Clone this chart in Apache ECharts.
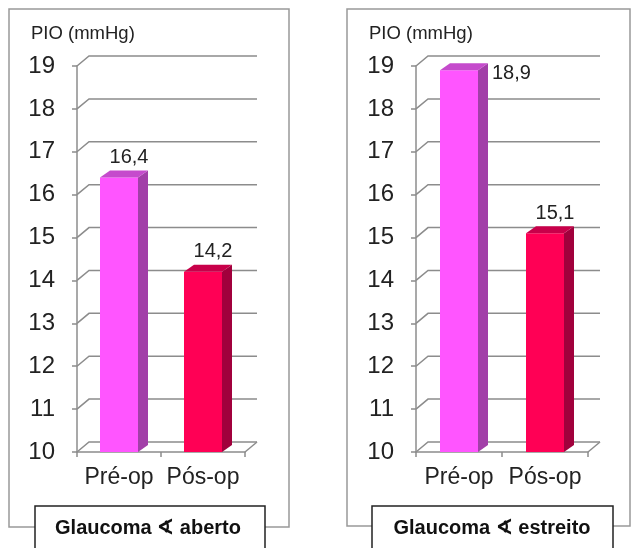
<!DOCTYPE html>
<html>
<head>
<meta charset="utf-8">
<script src="https://cdn.jsdelivr.net/npm/echarts@6/dist/echarts.min.js"></script>
<style>
  html, body { margin: 0; padding: 0; background: #fff; }
  #main { width: 632px; height: 548px; }
</style>
</head>
<body>
<div id="main"></div>
<script>
// dados
var categories = ['Pré-op', 'Pós-op'];
var abertoPIO = [16.4, 14.2];
var estreitoPIO = [18.9, 15.1];
var yTicks = [10, 11, 12, 13, 14, 15, 16, 17, 18, 19];

// cores das barras: frente / lado / topo
var frontColors = ['#ff55ff', '#ff0055'];
var sideColors = ['#a23fa8', '#a1003c'];
var topColors = ['#c54bcc', '#c8004a'];

var FONT = "'Liberation Sans', Arial, sans-serif";
var GRID_COLOR = '#8c8c8c';
var WX = 12, WY = -10;   // profundidade da parede
var BX = 10, BY = -7;    // profundidade da barra
var BAR_W = 38;

var myChart = echarts.init(document.getElementById('main'));

function fmt(v) {
  return String(v).replace('.', ',');
}

// linhas de grade "3D" (parede do fundo)
function renderFrame(params, api) {
  var cs = params.coordSys;
  var v = api.value(1);
  var y = api.coord([0, v])[1];
  var x0 = cs.x, x1 = cs.x + cs.width;
  var children = [{
    type: 'polyline',
    shape: { points: [[x0, y], [x0 + WX, y + WY], [x1 + WX, y + WY]] },
    style: { stroke: GRID_COLOR, lineWidth: 1.5, fill: null }
  }];
  if (v === yTicks[0]) {
    children.push({
      type: 'line',
      shape: { x1: x1, y1: y, x2: x1 + WX, y2: y + WY },
      style: { stroke: GRID_COLOR, lineWidth: 1.5 }
    });
  }
  return { type: 'group', children: children };
}

function renderBar(params, api) {
  var cs = params.coordSys;
  var i = api.value(0);
  var v = api.value(1);
  var base = api.coord([i, yTicks[0]]);
  var top = api.coord([i, v]);
  var x0 = base[0] - BAR_W / 2;
  var x1 = x0 + BAR_W;
  var yb = base[1], yt = top[1];
  var children = [
    { type: 'rect', shape: { x: x0, y: yt, width: BAR_W, height: yb - yt },
      style: { fill: frontColors[i] } },
    { type: 'polygon', shape: { points: [[x1, yb], [x1 + BX, yb + BY], [x1 + BX, yt + BY], [x1, yt]] },
      style: { fill: sideColors[i] } },
    { type: 'polygon', shape: { points: [[x0, yt], [x0 + BX, yt + BY], [x1 + BX, yt + BY], [x1, yt]] },
      style: { fill: topColors[i] } }
  ];
  var ly = yt + BY - 13;
  var label;
  if (ly < cs.y) {
    // sem espaço em cima: rótulo à direita
    label = { x: x1 + BX + 4, y: yt + 3, align: 'left' };
  } else {
    label = { x: x0 + BAR_W / 2 + BX, y: ly, align: 'center' };
  }
  children.push({
    type: 'text',
    style: {
      x: label.x, y: label.y, text: fmt(v),
      align: label.align, verticalAlign: 'middle',
      fill: '#222', font: '20px ' + FONT
    }
  });
  return { type: 'group', children: children };
}

function makeY(idx) {
  return {
    gridIndex: idx,
    type: 'value',
    min: 10, max: 19, interval: 1,
    axisLine: { show: true, lineStyle: { color: GRID_COLOR, width: 1.5 } },
    axisTick: { show: true, length: 5, lineStyle: { color: GRID_COLOR, width: 1.5 } },
    axisLabel: { margin: 22, color: '#222', fontSize: 24, fontFamily: FONT },
    splitLine: { show: false }
  };
}

function makeX(idx) {
  return {
    gridIndex: idx,
    type: 'category',
    data: categories,
    boundaryGap: true,
    axisLine: { show: true, lineStyle: { color: GRID_COLOR, width: 1.5 } },
    axisTick: { show: true, length: 5, lineStyle: { color: GRID_COLOR, width: 1.5 } },
    axisLabel: { interval: 0, hideOverlap: false, margin: 14, color: '#222', fontSize: 23, fontFamily: FONT }
  };
}

var frameData = yTicks.map(function (v) { return [0, v]; });

var option = {
  animation: false,
  backgroundColor: '#fff',
  title: [
    { text: 'PIO (mmHg)', left: 31, top: 24, padding: 0,
      textStyle: { fontSize: 18.5, fontWeight: 'normal', color: '#222', fontFamily: FONT } },
    { text: 'PIO (mmHg)', left: 369, top: 24, padding: 0,
      textStyle: { fontSize: 18.5, fontWeight: 'normal', color: '#222', fontFamily: FONT } }
  ],
  grid: [
    { left: 77, width: 168, top: 66, bottom: 96 },
    { left: 416, width: 172, top: 66, bottom: 96 }
  ],
  xAxis: [makeX(0), makeX(1)],
  yAxis: [makeY(0), makeY(1)],
  graphic: [
    { type: 'rect', shape: { x: 9, y: 9, width: 280, height: 518 },
      style: { fill: null, stroke: '#999', lineWidth: 1.5 } },
    { type: 'rect', shape: { x: 347, y: 9, width: 283, height: 517 },
      style: { fill: null, stroke: '#999', lineWidth: 1.5 } },
    { type: 'rect', shape: { x: 35, y: 506, width: 230, height: 60 },
      style: { fill: '#fff', stroke: '#222', lineWidth: 1.5 } },
    { type: 'rect', shape: { x: 372, y: 506, width: 241, height: 60 },
      style: { fill: '#fff', stroke: '#222', lineWidth: 1.5 } },
    { type: 'text', x: 148, y: 528,
      style: { text: 'Glaucoma ∢ aberto', align: 'center', verticalAlign: 'middle',
               fill: '#111', font: 'bold 20px ' + FONT } },
    { type: 'text', x: 492, y: 528,
      style: { text: 'Glaucoma ∢ estreito', align: 'center', verticalAlign: 'middle',
               fill: '#111', font: 'bold 20px ' + FONT } }
  ],
  series: [
    { type: 'custom', xAxisIndex: 0, yAxisIndex: 0, z: 1, renderItem: renderFrame, data: frameData },
    { type: 'custom', xAxisIndex: 1, yAxisIndex: 1, z: 1, renderItem: renderFrame, data: frameData },
    { type: 'custom', xAxisIndex: 0, yAxisIndex: 0, z: 3, renderItem: renderBar,
      data: abertoPIO.map(function (v, i) { return [i, v]; }) },
    { type: 'custom', xAxisIndex: 1, yAxisIndex: 1, z: 3, renderItem: renderBar,
      data: estreitoPIO.map(function (v, i) { return [i, v]; }) }
  ]
};

myChart.setOption(option);
</script>
</body>
</html>
